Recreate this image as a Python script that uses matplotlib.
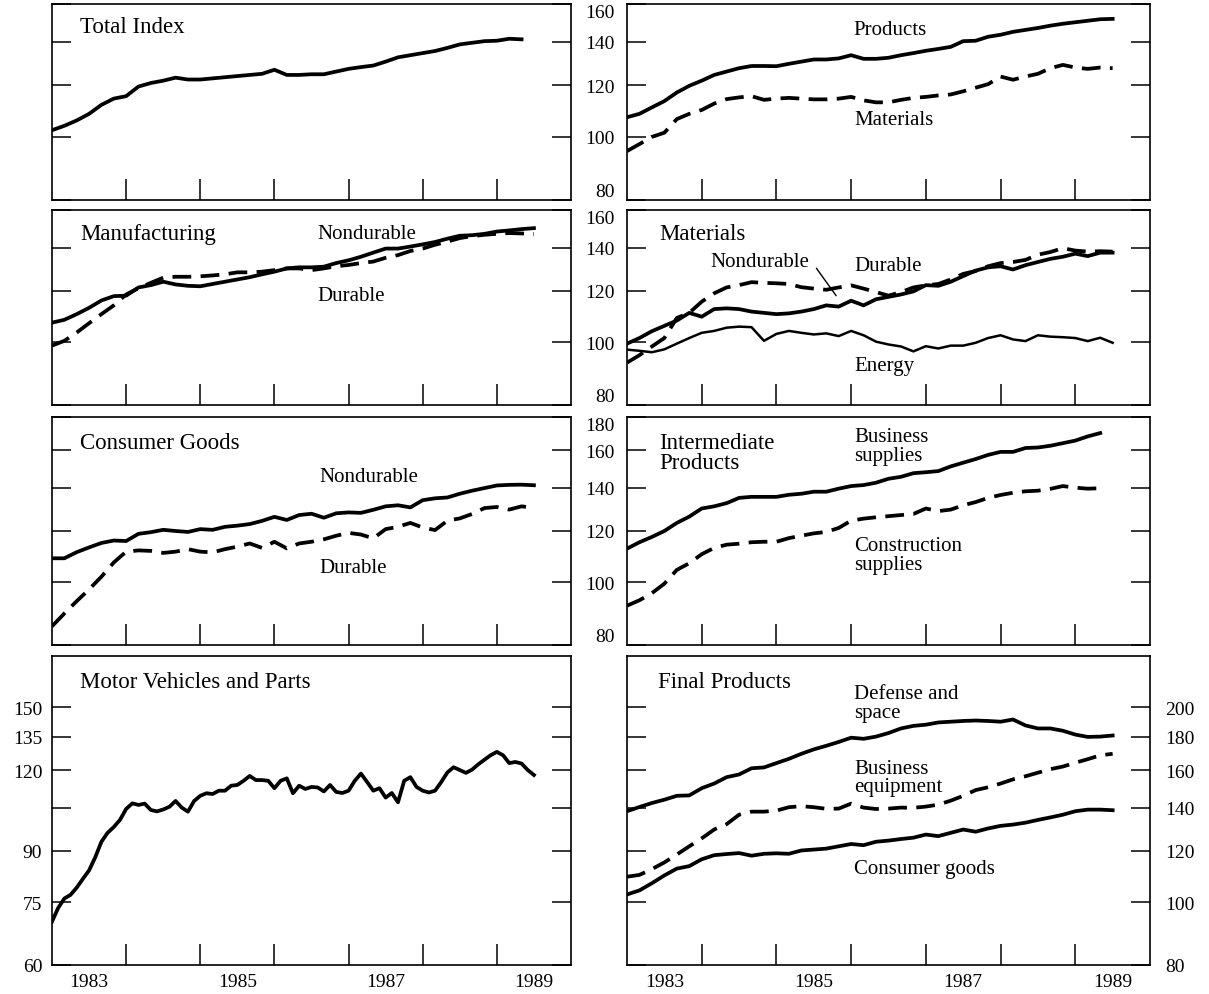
import matplotlib
matplotlib.use("Agg")
import matplotlib.pyplot as plt
from matplotlib.ticker import FixedLocator, NullFormatter, FixedFormatter, NullLocator

plt.rcParams['font.family'] = ['Liberation Serif', 'DejaVu Serif']

W, H = 1209, 995

# ---------------- data ----------------
dates = [1983 + i / 6 for i in range(40)]          # bimonthly, Jan 1983 ...
months = [1983 + m / 12 for m in range(79)]        # monthly, Jan 1983 ...

total_index = [102.4, 104, 106, 108.5, 112, 114.5, 115.5, 119.5, 121, 122, 123.3, 122.5,
               122.5, 123, 123.5, 124, 124.5, 125, 126.8, 124.5, 124.5, 124.8, 124.8, 126,
               127.2, 128, 128.7, 130.5, 132.5, 133.5, 134.5, 135.5, 137, 138.7, 139.5,
               140.3, 140.5, 141.5, 141.2]

products = [107.2, 108.5, 111, 113.5, 117, 119.8, 122, 124.5, 126, 127.5, 128.5, 128.5,
            128.4, 129.5, 130.5, 131.5, 131.5, 132, 133.5, 131.8, 131.8, 132.3, 133.5, 134.5,
            135.6, 136.5, 137.5, 140.3, 140.5, 142.5, 143.5, 145, 146, 147, 148.2, 149.2,
            150, 150.8, 151.6, 151.8]
materials = [95.1, 97.5, 100, 101.5, 106.5, 108.5, 110, 112.5, 114.3, 115, 115.5, 114,
             114.5, 114.8, 114.5, 114.2, 114.2, 114.5, 115.2, 113.8, 113, 113, 114, 114.8,
             115.2, 115.8, 116.2, 117.5, 119, 120.5, 123.8, 122.4, 123.8, 125, 127.5, 129,
             127.8, 127.2, 127.8, 127.5]

mfg_nondurable = [107.2, 108.3, 110.5, 113, 116, 117.8, 118, 121.5, 122.5, 124, 122.8, 122.2,
                  122, 123, 124, 125, 126, 127.3, 128.5, 130, 130.5, 130.5, 130.8, 132.5,
                  133.8, 135.5, 137.5, 139.5, 139.5, 140.5, 141.6, 142.8, 144.5, 146, 146.3,
                  147, 148.2, 148.8, 149.5, 150]
mfg_durable = [98.8, 100.5, 103.5, 107, 110.5, 114, 118.5, 121.2, 123.5, 125.8, 126.2, 126.2,
               126.4, 126.8, 127.3, 128.2, 128.2, 128.5, 129.2, 130, 130, 129.2, 130, 131,
               131.6, 132.5, 133.2, 135, 136.3, 138.3, 139.5, 141.4, 143, 144.8, 145.8, 146.5,
               147, 147.4, 147.2, 146.9]

mat_nondurable = [99.5, 101.5, 104, 106, 108, 111, 109.5, 112.5, 112.8, 112.5, 111.5, 111,
                  110.5, 110.8, 111.5, 112.5, 114, 113.5, 115.9, 114, 116.5, 117.5, 118.5, 119.8,
                  122.5, 122.2, 124, 126.5, 129, 130.5, 131, 129.5, 131.5, 133, 134.5, 135.5,
                  137, 135.8, 137.5, 137.5]
mat_durable = [93, 95.5, 98.5, 101.5, 109, 111, 115.5, 119, 121.5, 122.5, 123.8, 123.5,
               123.3, 123, 121.6, 121, 120.5, 121.5, 122.4, 121, 119.5, 118, 119.5, 121.5,
               122.4, 123, 125, 127.5, 128.8, 131, 132.5, 133, 134, 136.5, 137.8, 139.7,
               138.5, 138, 138.2, 138]
mat_energy = [97.4, 97, 96.5, 97.5, 99.5, 101.5, 103.4, 104.1, 105.3, 105.7, 105.5, 100.5,
              103, 104.1, 103.4, 102.8, 103.2, 102.2, 104.1, 102.5, 100.2, 99.2, 98.5, 96.8,
              98.6, 97.8, 98.8, 98.8, 99.8, 101.5, 102.5, 101, 100.4, 102.5, 102, 101.8,
              101.5, 100.4, 101.6, 99.8]

cons_nondurable = [108.9, 108.9, 111.3, 113.2, 115, 116, 115.8, 118.8, 119.5, 120.5, 120, 119.6,
                   120.8, 120.5, 121.8, 122.3, 123, 124.4, 126.2, 124.8, 127, 127.6, 125.8, 127.8,
                   128.2, 128, 129.4, 131, 131.5, 130.5, 133.9, 134.8, 135.2, 137, 138.5, 139.8,
                   141.1, 141.4, 141.5, 141.2]
cons_durable = [85.5, 89.5, 93.5, 97.5, 102, 107.3, 111.5, 112, 111.8, 111, 111.5, 112.5,
                111.5, 111.2, 112.5, 113.5, 114.8, 113, 115.5, 112.8, 114.8, 115.5, 116.5, 118,
                119.2, 118.5, 116.9, 120.8, 121.8, 123.5, 121.5, 120.4, 124.5, 125.5, 127.5,
                130.2, 130.7, 129.5, 131, 130.3]

bus_supplies = [112.7, 115.3, 117.5, 120, 123.5, 126.3, 130, 131, 132.5, 135, 135.5, 135.5,
                135.5, 136.5, 137, 138, 138, 139.5, 140.8, 141.3, 142.5, 144.5, 145.5, 147.4,
                147.9, 148.5, 151, 153, 155, 157.3, 159, 159, 161.2, 161.5, 162.5, 164, 165.5,
                168, 170]
constr_supplies = [92, 93.8, 96.2, 99.5, 104.5, 107, 110.5, 113, 114.3, 114.7, 115.3, 115.5,
                   115.5, 117, 118, 119, 119.6, 121.3, 124.5, 125.4, 126, 126.5, 127, 127.5,
                   130, 128.8, 129.5, 131.5, 133, 135, 136.4, 137.5, 138.2, 138.5, 139.4, 140.8,
                   140, 139.5, 139.7]

motor_vehicles = [70, 73.5, 76, 77, 79, 81.5, 84, 88, 93, 96, 98, 100.5,
                  104.5, 106.6, 106, 106.5, 104.1, 103.6, 104.3, 105.3, 107.5, 105, 103.5, 107.5,
                  109.5, 110.5, 110.2, 111.5, 111.5, 113.5, 113.8, 115.5, 117.5, 115.8, 115.8, 115.5,
                  112.5, 115.5, 116.5, 110.5, 113.5, 112.2, 113, 112.8, 111.2, 113.8, 111, 110.6,
                  111.5, 115.5, 118.5, 115, 111.5, 112.5, 108.8, 110.6, 107, 115.5, 117, 113,
                  111.5, 110.8, 111.5, 115, 119, 121.2, 120, 118.8, 120.2, 122.5, 124.5, 126.5,
                  128, 126.5, 123, 123.5, 122.8, 120, 117.9]

defense_space = [138.2, 140.3, 142.3, 144, 146, 146.2, 150, 152.5, 156, 157.5, 161, 161.5,
                 164, 166.5, 169.5, 172.2, 174.4, 176.8, 179.5, 178.8, 180.2, 182.5, 185.5, 187.2,
                 188, 189.5, 190, 190.5, 190.8, 190.5, 190, 191.5, 187.5, 185.5, 185.5, 184,
                 181.5, 180, 180.2, 180.9]
bus_equipment = [109.5, 110.2, 112.5, 115.2, 118.5, 122, 125.5, 129.5, 132, 136.5, 138, 138,
                 138.5, 140.2, 140.7, 140.2, 139.4, 139.5, 142, 140, 139.3, 139.5, 140, 139.9,
                 140.5, 141.5, 143.5, 146, 149, 150.5, 152.5, 154.8, 156.5, 158.5, 160.5, 162,
                 164.2, 166.3, 168.6, 169.5]
fin_consumer = [102.8, 104.3, 107, 110, 112.7, 113.7, 116.5, 118.2, 118.7, 119.1, 118, 118.8,
                119, 118.8, 120.2, 120.6, 121, 122, 123, 122.5, 124, 124.5, 125.2, 125.8,
                127.2, 126.5, 128, 129.5, 128.5, 130, 131.2, 131.8, 132.7, 134, 135.2, 136.5,
                138.2, 139, 139, 138.7]

year_ticks = [1984, 1985, 1986, 1987, 1988, 1989]
year_labels = ['1983', '1985', '1987', '1989']
year_label_pos = [1983.5, 1985.5, 1987.5, 1989.5]

ticks_small = [80, 100, 120, 140, 160]
ticks_mid = [80, 100, 120, 140, 160, 180]
ticks_final = [80, 100, 120, 140, 160, 180, 200]
ticks_motor = [60, 75, 90, 105, 120, 135, 150]
labels_motor = ['60', '75', '90', '', '120', '135', '150']

# ---------------- drawing ----------------
fig = plt.figure(figsize=(W / 100, H / 100), dpi=100)

LW = 2.7
DASH = (0, (5.0, 2.5))
TITLE_FS = 16.5
LAB_FS = 15
TICK_FS = 14


def make_ax(x0, x1, top, bottom):
    return fig.add_axes([x0 / W, 1 - bottom / H, (x1 - x0) / W, (bottom - top) / H])


def style(ax, ylim, yticks):
    ax.set_yscale('log')
    ax.set_xlim(1983, 1990)
    ax.set_ylim(*ylim)
    ax.xaxis.set_major_locator(FixedLocator(year_ticks))
    ax.xaxis.set_major_formatter(NullFormatter())
    ax.xaxis.set_minor_locator(NullLocator())
    ax.yaxis.set_major_locator(FixedLocator(yticks))
    ax.yaxis.set_minor_locator(NullLocator())
    ax.yaxis.set_major_formatter(NullFormatter())
    ax.yaxis.set_minor_formatter(NullFormatter())
    ax.tick_params(axis='x', which='major', direction='in', length=15, width=1.1,
                   bottom=True, top=False)
    ax.tick_params(axis='y', which='major', direction='in', length=14, width=1.1,
                   left=True, right=True, labelleft=False, labelright=False)
    for s in ax.spines.values():
        s.set_linewidth(1.2)


def left_labels(ax, labels, pad, edge=True):
    ax.yaxis.set_major_formatter(FixedFormatter(labels))
    ax.tick_params(axis='y', labelleft=True, pad=pad, labelsize=TICK_FS)
    if edge:
        ticks = ax.yaxis.get_major_ticks()
        ticks[0].label1.set_va('bottom')
        ticks[-1].label1.set_va('top')


def year_axis(ax):
    ax.xaxis.set_minor_locator(FixedLocator(year_label_pos))
    ax.xaxis.set_minor_formatter(FixedFormatter(year_labels))
    ax.tick_params(axis='x', which='minor', length=0, pad=6, labelsize=TICK_FS)


def txt(ax, x, y, s, size=LAB_FS, ha='left', **kw):
    ax.text(x, y, s, transform=ax.transAxes, fontsize=size, ha=ha, va='center', **kw)


LX0, LX1 = 52, 571
RX0, RX1 = 627, 1150
rows = [(5, 201), (211, 406), (418, 646), (657, 966)]

# Row 1
ax = make_ax(LX0, LX1, *rows[0])
style(ax, (80, 160), ticks_small)
ax.plot(dates[:len(total_index)], total_index, color='black', lw=LW)
txt(ax, 0.054, 0.883, 'Total Index', size=TITLE_FS)

ax = make_ax(RX0, RX1, *rows[0])
style(ax, (80, 160), ticks_small)
left_labels(ax, [str(t) for t in ticks_small], 9)
ax.plot(dates[:len(products)], products, color='black', lw=LW)
ax.plot(dates[:len(materials)], materials, color='black', lw=LW, ls=DASH)
txt(ax, 0.503, 0.872, 'Products', ha='center')
txt(ax, 0.51, 0.413, 'Materials', ha='center')

# Row 2
ax = make_ax(LX0, LX1, *rows[1])
style(ax, (80, 160), ticks_small)
ax.plot(dates[:len(mfg_nondurable)], mfg_nondurable, color='black', lw=LW)
ax.plot(dates[:len(mfg_durable)], mfg_durable, color='black', lw=LW, ls=DASH)
txt(ax, 0.054, 0.877, 'Manufacturing', size=TITLE_FS)
txt(ax, 0.511, 0.882, 'Nondurable')
txt(ax, 0.511, 0.564, 'Durable')

ax = make_ax(RX0, RX1, *rows[1])
style(ax, (80, 160), ticks_small)
left_labels(ax, [str(t) for t in ticks_small], 9)
ax.plot(dates[:len(mat_nondurable)], mat_nondurable, color='black', lw=LW)
ax.plot(dates[:len(mat_durable)], mat_durable, color='black', lw=LW, ls=DASH)
ax.plot(dates[:len(mat_energy)], mat_energy, color='black', lw=1.8)
txt(ax, 0.061, 0.882, 'Materials', size=TITLE_FS)
txt(ax, 0.159, 0.738, 'Nondurable')
txt(ax, 0.434, 0.713, 'Durable')
txt(ax, 0.434, 0.2, 'Energy')
ax.annotate('', xy=(0.403, 0.549), xytext=(0.359, 0.713), xycoords='axes fraction',
            textcoords='axes fraction',
            arrowprops=dict(arrowstyle='-', lw=1.0, color='black'))

# Row 3
ax = make_ax(LX0, LX1, *rows[2])
style(ax, (80, 180), ticks_mid)
ax.plot(dates[:len(cons_nondurable)], cons_nondurable, color='black', lw=LW)
ax.plot(dates[:len(cons_durable)], cons_durable, color='black', lw=LW, ls=DASH)
txt(ax, 0.054, 0.89, 'Consumer Goods', size=TITLE_FS)
txt(ax, 0.516, 0.737, 'Nondurable')
txt(ax, 0.516, 0.342, 'Durable')

ax = make_ax(RX0, RX1, *rows[2])
style(ax, (80, 180), ticks_mid)
left_labels(ax, [str(t) for t in ticks_mid], 9)
ax.plot(dates[:len(bus_supplies)], bus_supplies, color='black', lw=LW)
ax.plot(dates[:len(constr_supplies)], constr_supplies, color='black', lw=LW, ls=DASH)
txt(ax, 0.061, 0.846, 'Intermediate\nProducts', size=TITLE_FS, linespacing=0.95)
txt(ax, 0.434, 0.873, 'Business\nsupplies', linespacing=0.95)
txt(ax, 0.434, 0.395, 'Construction\nsupplies', linespacing=0.95)

# Row 4
ax = make_ax(LX0, LX1, *rows[3])
style(ax, (60, 180), ticks_motor)
left_labels(ax, labels_motor, 7, edge=False)
year_axis(ax)
ax.plot(months[:len(motor_vehicles)], motor_vehicles, color='black', lw=LW)
txt(ax, 0.054, 0.919, 'Motor Vehicles and Parts', size=TITLE_FS)

ax = make_ax(RX0, RX1, *rows[3])
style(ax, (80, 240), ticks_final)
ax.yaxis.set_major_formatter(FixedFormatter([str(t) for t in ticks_final]))
ax.tick_params(axis='y', labelright=True, pad=11, labelsize=TICK_FS)
year_axis(ax)
ax.plot(dates[:len(defense_space)], defense_space, color='black', lw=LW)
ax.plot(dates[:len(bus_equipment)], bus_equipment, color='black', lw=LW, ls=DASH)
ax.plot(dates[:len(fin_consumer)], fin_consumer, color='black', lw=LW)
txt(ax, 0.059, 0.919, 'Final Products', size=TITLE_FS)
txt(ax, 0.434, 0.848, 'Defense and\nspace', linespacing=0.95)
txt(ax, 0.434, 0.607, 'Business\nequipment', linespacing=0.95)
txt(ax, 0.434, 0.311, 'Consumer goods')

fig.savefig('out.png', dpi=100)
